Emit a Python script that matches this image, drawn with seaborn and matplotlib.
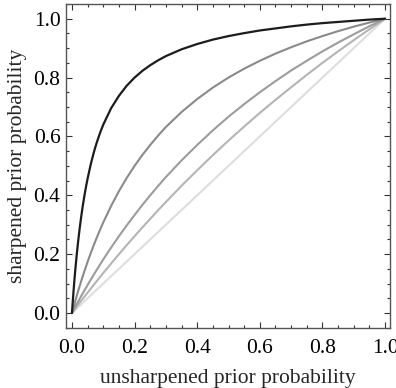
import matplotlib
matplotlib.use("Agg")
import matplotlib.pyplot as plt
import seaborn as sns
import pandas as pd
from matplotlib.ticker import MultipleLocator

# unsharpened prior probability (x) and sharpened values
x_vals = [0, 0.0025, 0.005, 0.0075, 0.01, 0.015, 0.02, 0.025, 0.03, 0.035, 0.04,
          0.045, 0.05, 0.06, 0.07, 0.075, 0.08, 0.09, 0.1, 0.125, 0.15, 0.175, 0.2,
          0.225, 0.25, 0.275, 0.3, 0.35, 0.4, 0.45, 0.5, 0.55, 0.6, 0.65, 0.7, 0.75,
          0.8, 0.85, 0.9, 0.95, 1.0]
curve_a = [0, 0.0386, 0.074, 0.1079, 0.139, 0.1959, 0.246, 0.2909, 0.331, 0.3672, 0.400,
           0.4299, 0.457, 0.5053, 0.5463, 0.565, 0.5818, 0.6128, 0.640, 0.6957, 0.738,
           0.7724, 0.800, 0.8229, 0.842, 0.8585, 0.873, 0.896, 0.914, 0.929, 0.941, 0.951,
           0.960, 0.967, 0.974, 0.980, 0.985, 0.989, 0.993, 0.997, 1.0]
curve_b = [0, 0.00993, 0.0197, 0.0293, 0.0388, 0.0574, 0.0755, 0.0930, 0.110, 0.1267,
           0.143, 0.1586, 0.174, 0.2034, 0.2314, 0.245, 0.2581, 0.2835, 0.308, 0.3636,
           0.414, 0.4590, 0.500, 0.5373, 0.571, 0.6027, 0.632, 0.6829, 0.727, 0.7660,
           0.800, 0.8302, 0.857, 0.8814, 0.903, 0.9231, 0.941, 0.9577, 0.973, 0.9870, 1.0]
curve_c = [0, 0.00499, 0.00995, 0.01489, 0.0198, 0.02956, 0.0392, 0.04878, 0.0583,
           0.06763, 0.0769, 0.08612, 0.0952, 0.1132, 0.1308, 0.1395, 0.1481, 0.1651,
           0.182, 0.2222, 0.261, 0.2979, 0.333, 0.3673, 0.400, 0.4314, 0.462, 0.5185,
           0.571, 0.6207, 0.667, 0.7097, 0.750, 0.7879, 0.824, 0.8571, 0.889, 0.9189,
           0.947, 0.9744, 1.0]
curve_d = [0, 0.00353, 0.00706, 0.01057, 0.0141, 0.02108, 0.0280, 0.03499, 0.0419,
           0.04879, 0.0556, 0.06248, 0.0693, 0.0828, 0.09621, 0.1029, 0.10951, 0.12271,
           0.136, 0.16807, 0.1997, 0.23076, 0.261, 0.29107, 0.320, 0.34914, 0.377,
           0.4323, 0.485, 0.53641, 0.586, 0.6335, 0.680, 0.72425, 0.767, 0.80926, 0.850,
           0.88906, 0.927, 0.96412, 1.0]
curve_e = [0, 0.0025, 0.005, 0.0075, 0.01, 0.015, 0.02, 0.025, 0.03, 0.035, 0.04,
           0.045, 0.05, 0.06, 0.07, 0.075, 0.08, 0.09, 0.1, 0.125, 0.15, 0.175, 0.2,
           0.225, 0.25, 0.275, 0.3, 0.35, 0.4, 0.45, 0.5, 0.55, 0.6, 0.65, 0.7, 0.75,
           0.8, 0.85, 0.9, 0.95, 1.0]

series = {"a": curve_a, "b": curve_b, "c": curve_c, "d": curve_d, "e": curve_e}
colors = {"a": "#1c1c1c", "b": "#8a8a8a", "c": "#9c9c9c", "d": "#b4b4b4", "e": "#dedede"}
widths = {"a": 1.6, "b": 1.5, "c": 1.5, "d": 1.5, "e": 1.5}

x_label = "unsharpened prior probability"
y_label = "sharpened prior probability"

rows = []
for name, vals in series.items():
    for xv, yv in zip(x_vals, vals):
        rows.append({"x": xv, "y": yv, "s": name})
df = pd.DataFrame(rows)

sns.set_style("ticks")
plt.rcParams["font.family"] = ["Liberation Serif", "DejaVu Serif"]

fig = plt.figure(figsize=(3.96, 3.88), dpi=100)
ax = fig.add_axes([0.1667, 0.1546, 0.8183, 0.8351])

for name in ["e", "d", "c", "b", "a"]:
    sub = df[df["s"] == name]
    sns.lineplot(data=sub, x="x", y="y", color=colors[name], linewidth=widths[name],
                 ax=ax, estimator=None, sort=False, legend=False)

ax.set_xlim(-0.019, 1.016)
ax.set_ylim(-0.051, 1.05)
ax.xaxis.set_major_locator(MultipleLocator(0.2))
ax.xaxis.set_minor_locator(MultipleLocator(0.05))
ax.yaxis.set_major_locator(MultipleLocator(0.2))
ax.yaxis.set_minor_locator(MultipleLocator(0.05))
ax.xaxis.set_major_formatter(plt.FuncFormatter(lambda v, p: f"{v:.1f}"))
ax.yaxis.set_major_formatter(plt.FuncFormatter(lambda v, p: f"{v:.1f}"))
ax.tick_params(which="both", direction="in", top=True, right=True, color="#333333",
               width=0.8, labelsize=15.5, labelcolor="black")
ax.tick_params(axis="x", which="major", length=4.5, pad=8)
ax.tick_params(axis="y", which="major", length=4.5, pad=4)
ax.tick_params(which="minor", length=2.5)
for sp in ax.spines.values():
    sp.set_visible(True)
    sp.set_color("#555555")
    sp.set_linewidth(1.0)

ax.set_xlabel(x_label, fontsize=15.5, labelpad=8)
ax.set_ylabel(y_label, fontsize=15.5, labelpad=5)

fig.savefig("out.png", dpi=100)
